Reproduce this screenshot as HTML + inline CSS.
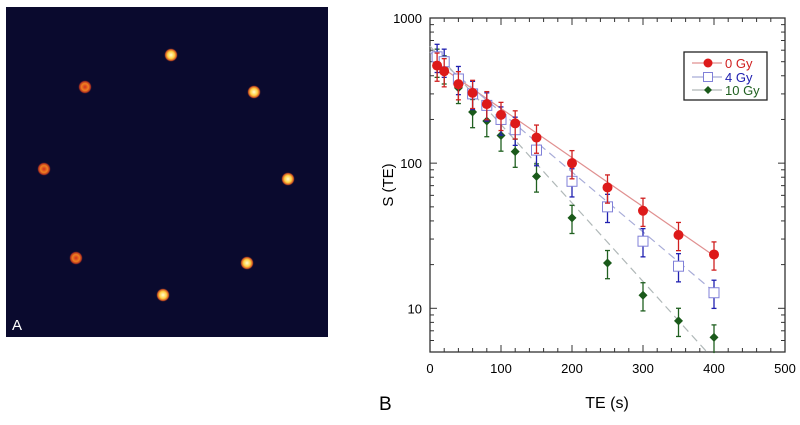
<!DOCTYPE html>
<html><head><meta charset="utf-8"><style>
body{margin:0;background:#fff;width:800px;height:420px;overflow:hidden;font-family:"Liberation Sans",sans-serif}
</style></head><body>
<svg width="800" height="420">
<defs>
<radialGradient id="spot"><stop offset="0" stop-color="#fffbd0"/><stop offset="0.5" stop-color="#ffd040"/><stop offset="0.8" stop-color="#d05020"/><stop offset="1" stop-color="#0a0a30" stop-opacity="0"/></radialGradient>
<radialGradient id="spot2"><stop offset="0" stop-color="#d03020"/><stop offset="0.5" stop-color="#f08020"/><stop offset="0.8" stop-color="#b03020"/><stop offset="1" stop-color="#0a0a30" stop-opacity="0"/></radialGradient>
</defs>
<g>
<rect x="6" y="7" width="322" height="330" fill="#0a0a2e"/>
<circle cx="171" cy="55" r="7" fill="url(#spot)"/>
<circle cx="85" cy="87" r="7" fill="url(#spot2)"/>
<circle cx="254" cy="92" r="7" fill="url(#spot)"/>
<circle cx="44" cy="169" r="7" fill="url(#spot2)"/>
<circle cx="288" cy="179" r="7" fill="url(#spot)"/>
<circle cx="76" cy="258" r="7" fill="url(#spot2)"/>
<circle cx="247" cy="263" r="7" fill="url(#spot)"/>
<circle cx="163" cy="295" r="7" fill="url(#spot)"/>
<text x="12" y="330" fill="#fff" font-size="15">A</text>
</g>
<g id="chart"></g>
<text x="379" y="410" font-size="19">B</text>
<text x="607" y="408" font-size="16" text-anchor="middle">TE (s)</text>
<text transform="translate(393,185) rotate(-90)" font-size="15" text-anchor="middle">S (TE)</text>
</svg>
<script>
const te=[10,20,40,60,80,100,120,150,200,250,300,350,400];
const s0=[470,430,350,305,255,215,188,150,100,68,47,32,23.5];
const s4=[540,500,380,300,250,200,170,123,75,50,29,19.5,12.8];
const s10=[500,450,330,225,195,155,120,81,42,20.5,12.3,8.2,6.3];
const xTicks=[0,100,200,300,400,500];
const yTicks=[10,100,1000];
const fit0=[[10,480],[400,23]];
const fit4=[[0,580],[400,13]];
const fit10=[[0,640],[390,5]];
const L=430,R=785,T=18,B=352;
const X=v=>L+(v/500)*(R-L);
const Y=v=>T+(3-Math.log10(v))/(3-Math.log10(5))*(B-T);
const g=document.getElementById('chart');
const NS='http://www.w3.org/2000/svg';
function mk(t,a,p){const e=document.createElementNS(NS,t);for(const k in a)e.setAttribute(k,a[k]);(p||g).appendChild(e);return e;}
let fr=mk('rect',{x:L,y:T,width:R-L,height:B-T,fill:'none',stroke:'#333','stroke-width':1.3});


for(let v=0;v<=500;v+=20){const big=v%100==0;const l=big?7:4;
mk('line',{x1:X(v),x2:X(v),y1:B,y2:B-l,stroke:'#333'});mk('line',{x1:X(v),x2:X(v),y1:T,y2:T+l,stroke:'#333'});}
xTicks.forEach(v=>{const t=mk('text',{x:X(v),y:373,'font-size':13,'text-anchor':'middle'});t.textContent=v;

});
[5,6,7,8,9,10,20,30,40,50,60,70,80,90,100,200,300,400,500,600,700,800,900,1000].forEach(v=>{const big=yTicks.includes(v);const l=big?7:4;
mk('line',{x1:L,x2:L+l,y1:Y(v),y2:Y(v),stroke:'#333'});mk('line',{x1:R,x2:R-l,y1:Y(v),y2:Y(v),stroke:'#333'});});
yTicks.forEach(v=>{const t=mk('text',{x:422,y:Y(v)+5,'font-size':13,'text-anchor':'end'});t.textContent=v;

});
function fit(f,c,d,n){const l=mk('line',{x1:X(f[0][0]),y1:Y(f[0][1]),x2:X(f[1][0]),y2:Y(f[1][1]),stroke:c,'stroke-width':1.2,'stroke-dasharray':d});

}
fit(fit0,'#e09090','','fit-line-0gy');fit(fit4,'#a8acd8','8 5','fit-line-4gy');fit(fit10,'#b0b8b8','8 5','fit-line-10gy');
function series(vals,col,shape,name){vals.forEach((v,i)=>{const x=X(te[i]),y=Y(v);
const lo=Math.max(v*0.78,4),hi=v*1.22;
mk('line',{x1:x,x2:x,y1:Y(lo),y2:Math.min(Y(hi),B),stroke:col,'stroke-width':1.3});
mk('line',{x1:x-2.5,x2:x+2.5,y1:Y(hi),y2:Y(hi),stroke:col,'stroke-width':1.3});
if(Y(lo)<B)mk('line',{x1:x-2.5,x2:x+2.5,y1:Y(lo),y2:Y(lo),stroke:col,'stroke-width':1.3});
let m;
if(shape=='c')m=mk('circle',{cx:x,cy:y,r:5,fill:'#dd1a1a'});
else if(shape=='s')m=mk('rect',{x:x-5,y:y-5,width:10,height:10,fill:'#fff',stroke:'#8080d8','stroke-width':1});
else m=mk('polygon',{points:`${x},${y-4.5} ${x+4.5},${y} ${x},${y+4.5} ${x-4.5},${y}`,fill:'#1a5a1a'});

});}
series(s10,'#206020','d','point-10gy');series(s4,'#2020b0','s','point-4gy');series(s0,'#d02020','c','point-0gy');
const lg=mk('g',{});


mk('rect',{x:684,y:52,width:83,height:48,fill:'#fff',stroke:'#222','stroke-width':1.3},lg);
[['0 Gy','#d02020','#e09090','c',63],['4 Gy','#2020b0','#a8acd8','s',77],['10 Gy','#206020','#b0b8b8','d',90]].forEach(e=>{
mk('line',{x1:692,x2:722,y1:e[4],y2:e[4],stroke:e[2],'stroke-width':1.2},lg);const x=708,y=e[4];
if(e[3]=='c')mk('circle',{cx:x,cy:y,r:4.5,fill:'#dd1a1a'},lg);
else if(e[3]=='s')mk('rect',{x:x-4.5,y:y-4.5,width:9,height:9,fill:'#fff',stroke:'#8080d8'},lg);
else mk('polygon',{points:`${x},${y-4} ${x+4},${y} ${x},${y+4} ${x-4},${y}`,fill:'#1a5a1a'},lg);
const t=mk('text',{x:725,y:y+5,'font-size':13,fill:e[1]},lg);t.textContent=e[0];

});
</script>
</body></html>
